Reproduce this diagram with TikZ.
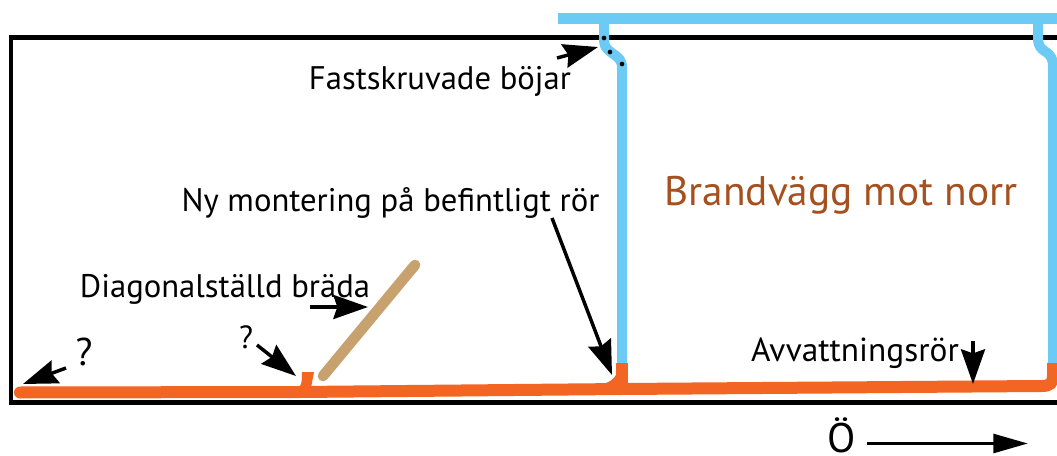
\documentclass[tikz,border=0pt]{standalone}
\usepackage{fontspec}
\setmainfont{PT Sans}
\usetikzlibrary{arrows.meta}
\definecolor{pipeblue}{HTML}{6CCBF4}
\definecolor{pipeorange}{HTML}{F26522}
\definecolor{boardtan}{HTML}{C8A26E}
\definecolor{signbrown}{HTML}{A5501E}
\tikzset{
  label text/.style={anchor=base,inner sep=0pt,text=black,font=\fontsize{24.5}{28}\selectfont},
  note arrow/.style={line width=2.6pt,-{Stealth[length=26pt,width=18pt,inset=3pt]}},
  blue pipe/.style={draw=pipeblue,line width=7.5pt,line join=round},
  orange pipe/.style={draw=pipeorange,line width=9pt},
  screw/.style={fill=black,circle,inner sep=0pt,minimum size=3.5pt}
}
\begin{document}
\begin{tikzpicture}[x=0.75pt,y=0.75pt,yscale=-1,xscale=1]
\useasboundingbox (0,0) rectangle (1057,456);

% frame
\draw [line width=3.6pt,line cap=round] (1057,37.5) -- (11,37.5) -- (11,402.5) -- (1057,402.5);

% blue pipes
\fill [pipeblue] (558,13) rectangle (1057,24);
\draw [blue pipe] (604,20) -- (604,40) .. controls (604,47) and (607,49) .. (612,53) .. controls (619,58) and (622,60) .. (622,68) -- (622,368);
\draw [blue pipe] (1038,20) -- (1038,38) .. controls (1038,46) and (1041,49) .. (1046,52) .. controls (1052,56) and (1053,60) .. (1053,68) -- (1053,368);

% screws
\node [screw] (screwa) at (604,38) {};
\node [screw] (screwb) at (610,52) {};
\node [screw] (screwc) at (622,64) {};

% orange pipes
\draw [orange pipe,line cap=round,line join=round] (20,392.5) -- (300,392) -- (622,389);
\draw [orange pipe] (622,389) -- (1042,386) .. controls (1050,386) and (1053,383) .. (1053,376) -- (1053,363);
\draw [orange pipe] (622,389) -- (622,363);
\fill [pipeorange] (598,384) .. controls (608,384) and (615,380) .. (618,370) -- (627,370) -- (627,390) -- (598,390) -- cycle;
\fill [pipeorange] (302,372) -- (314,372) -- (311,388) -- (296,389) .. controls (301,387) and (302,384) .. (302,372) -- cycle;

% board
\draw [draw=boardtan,line width=8pt,line cap=round] (323,376) -- (415,265);

% texts
\node [label text] (fastlabel) at (440,90) {Fastskruvade böjar};
\node [label text] (nylabel) at (390.5,212) {Ny montering på befintligt rör};
\node [label text] (diaglabel) at (225,297) {Diagonalställd bräda};
\node [label text,font=\fontsize{25}{28}\selectfont] (avvlabel) at (855,361) {Avvattningsrör};
\node [label text,font=\fontsize{31}{36}\selectfont,text=signbrown] (signlabel) at (841,205) {Brandvägg mot norr};
\node [label text,font=\fontsize{29}{32}\selectfont] (qleft) at (84,365) {?};
\node [label text,font=\fontsize{24}{28}\selectfont] (qmid) at (246,348) {?};
\node [label text,font=\fontsize{31}{32}\selectfont] (olabel) at (842,452) {Ö};

% arrows
\coordinate (fasttail) at (557,58);
\coordinate (fasttip) at (598,47);
\coordinate (nytail) at (552,218);
\coordinate (nytip) at (612,375);
\coordinate (diagtail) at (310,307);
\coordinate (diagtip) at (368,307);
\coordinate (qlefttail) at (66,368);
\coordinate (qlefttip) at (23,384);
\coordinate (qmidtail) at (257,345);
\coordinate (qmidtip) at (296,376);
\coordinate (avvtail) at (973,341);
\coordinate (avvtip) at (973,384);
\coordinate (otail) at (867,443.5);
\coordinate (otip) at (1028,443.5);
\draw [note arrow] (fasttail) -- (fasttip);
\draw [note arrow] (nytail) -- (nytip);
\draw [note arrow] (diagtail) -- (diagtip);
\draw [note arrow] (qlefttail) -- (qlefttip);
\draw [note arrow] (qmidtail) -- (qmidtip);
\draw [note arrow] (avvtail) -- (avvtip);
\draw [line width=2.8pt,-{Stealth[length=26pt,width=14pt,inset=0pt]}] (otail) -- (otip);

\end{tikzpicture}
\end{document}
